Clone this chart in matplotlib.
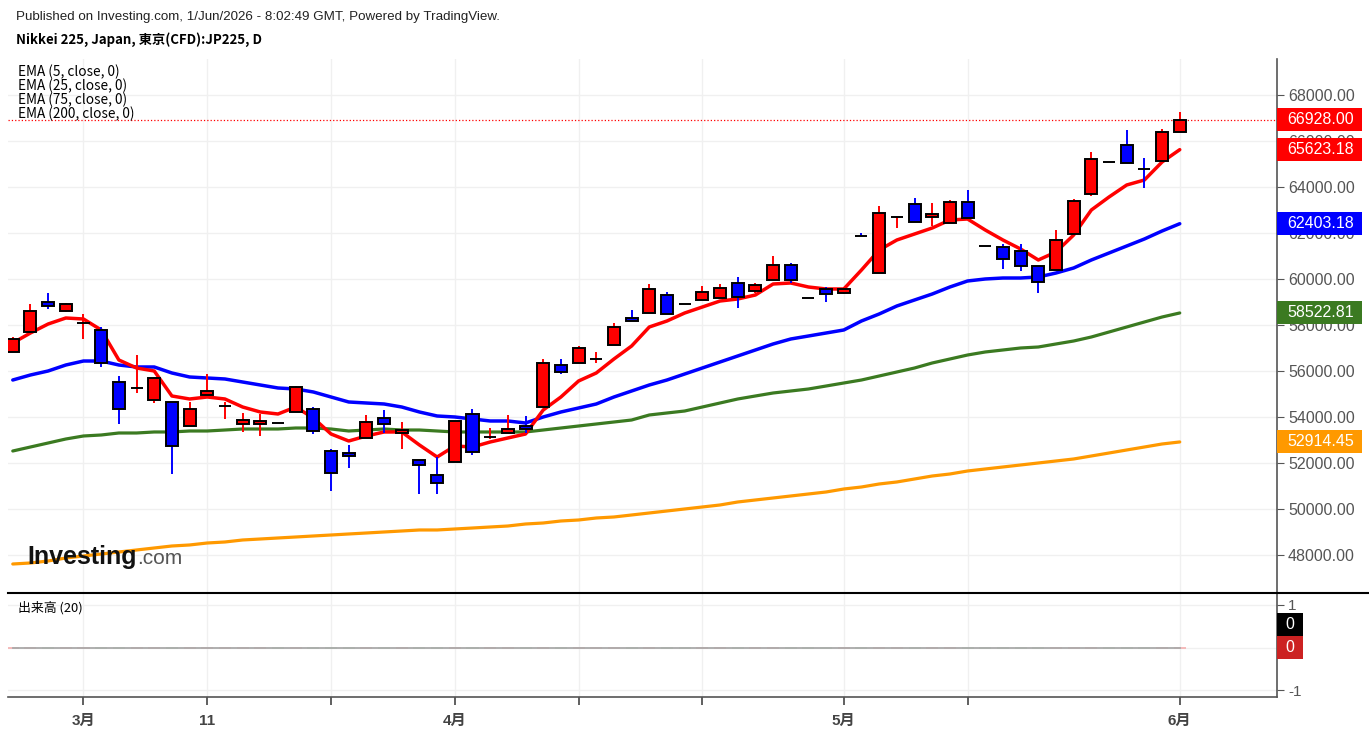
import matplotlib.pyplot as plt
import matplotlib.transforms as mtransforms
from matplotlib.patches import Rectangle
from matplotlib.lines import Line2D

plt.rcParams['font.family'] = ['Liberation Sans', 'Noto Sans CJK JP', 'DejaVu Sans']

# daily candles, Nikkei 225 CFD
opens = [56830, 57700, 59000, 58610, 58080, 57780, 55520, 55260, 54740, 54650,
         53610, 54960, 54470, 53700, 53700, 53740, 54220, 54350, 52520, 52430,
         53090, 53960, 53300, 52130, 51480, 52040, 54130, 53130, 53300, 53610,
         54430, 56260, 56350, 56520, 57130, 58300, 58520, 59300, 58910, 59090,
         59170, 59830, 59480, 59960, 60610, 59170, 59570, 59390, 61870, 60260,
         62690, 63260, 62700, 62430, 63350, 61430, 61390, 61220, 60570, 60390,
         61960, 63700, 65090, 65830, 64790, 65130, 66390]
highs = [57480, 58910, 59390, 58960, 58480, 57910, 55780, 56700, 55740, 54660,
         54650, 55870, 54650, 54170, 54130, 53740, 55350, 54430, 52610, 52780,
         54090, 54300, 53780, 52140, 52260, 53830, 54350, 53520, 54090, 54040,
         56520, 56520, 57090, 56830, 58090, 58650, 59780, 59430, 58910, 59700,
         59780, 60090, 59830, 61000, 60700, 59170, 59650, 59650, 62000, 63170,
         62700, 63520, 63300, 63430, 63870, 61430, 61520, 61520, 60570, 62130,
         63480, 65520, 65090, 66480, 65260, 66520, 67260]
lows = [56820, 57690, 58700, 58570, 57390, 56170, 53700, 55040, 54610, 51520,
        53600, 54950, 53910, 53350, 53170, 53740, 54210, 53260, 50780, 51780,
        53080, 53300, 52610, 50650, 50650, 52040, 52350, 53040, 53300, 53300,
        54430, 55870, 56350, 56350, 57130, 58170, 58520, 58480, 58910, 59090,
        59170, 58740, 59390, 59960, 59830, 59170, 59000, 59350, 61860, 60260,
        62220, 62480, 62300, 62430, 62650, 61430, 60430, 60350, 59390, 60390,
        61960, 63610, 65090, 65040, 63960, 65130, 66390]
closes = [57390, 58610, 58830, 58910, 58090, 56350, 54350, 55270, 55700, 52740,
          54350, 55130, 54480, 53870, 53830, 53740, 55300, 53390, 51570, 52300,
          53780, 53700, 53430, 51910, 51130, 53830, 52480, 53140, 53480, 53480,
          56350, 55960, 57000, 56530, 57910, 58170, 59570, 58480, 58910, 59430,
          59610, 59220, 59740, 60610, 59960, 59170, 59350, 59570, 61860, 62870,
          62700, 62480, 62830, 63350, 62650, 61430, 60870, 60570, 59870, 61700,
          63390, 65220, 65090, 65040, 64780, 66390, 66928]

ema5 = [57217, 57652, 58043, 58304, 58260, 57783, 56478, 56130, 56000, 54913,
        54782, 54869, 54782, 54434, 54217, 54130, 54434, 53956, 53260, 52956,
        53174, 53348, 53348, 52782, 52260, 52739, 52695, 52913, 53087, 53260,
        54304, 54869, 55565, 55913, 56521, 57087, 57913, 58174, 58521, 58782,
        59043, 59130, 59304, 59782, 59826, 59652, 59565, 59565, 60391, 61260,
        61695, 61956, 62217, 62565, 62608, 62130, 61695, 61304, 60826, 61173,
        61913, 63000, 63565, 64087, 64304, 65087, 65623.18]
ema25 = [55608, 55826, 56000, 56260, 56434, 56434, 56260, 56174, 56174, 55913,
         55739, 55695, 55652, 55521, 55391, 55261, 55217, 55087, 54869, 54652,
         54608, 54565, 54434, 54217, 54043, 54000, 53913, 53826, 53826, 53739,
         54000, 54217, 54391, 54565, 54869, 55130, 55391, 55608, 55869, 56130,
         56391, 56652, 56913, 57174, 57391, 57521, 57652, 57783, 58174, 58478,
         58826, 59087, 59347, 59652, 59913, 60000, 60043, 60043, 60087, 60260,
         60478, 60826, 61130, 61434, 61739, 62087, 62403.18]
ema75 = [52521, 52695, 52869, 53043, 53174, 53217, 53304, 53304, 53348, 53348,
         53391, 53391, 53434, 53478, 53478, 53478, 53521, 53521, 53478, 53391,
         53434, 53478, 53434, 53434, 53391, 53348, 53348, 53348, 53348, 53348,
         53434, 53521, 53608, 53695, 53782, 53869, 54087, 54174, 54260, 54434,
         54608, 54782, 54913, 55043, 55130, 55217, 55347, 55478, 55608, 55782,
         55956, 56130, 56348, 56521, 56695, 56826, 56913, 57000, 57043, 57174,
         57304, 57478, 57695, 57913, 58130, 58347, 58522.81]
ema200 = [47608, 47652, 47739, 47869, 47956, 48043, 48130, 48217, 48304, 48391,
          48435, 48521, 48565, 48652, 48695, 48739, 48782, 48826, 48869, 48913,
          48956, 49000, 49043, 49087, 49087, 49130, 49173, 49217, 49260, 49347,
          49391, 49478, 49521, 49608, 49652, 49739, 49826, 49913, 50000, 50087,
          50174, 50304, 50391, 50478, 50565, 50652, 50739, 50869, 50956, 51087,
          51174, 51304, 51434, 51521, 51652, 51739, 51826, 51913, 52000, 52087,
          52174, 52304, 52434, 52565, 52695, 52826, 52914.45]
volume = [0] * len(opens)
volume_ma = [0] * len(opens)

tick_idx = [4, 11, 18, 25, 32, 39, 47, 54, 66]
tick_labels = ['3月', '11', '', '4月', '', '', '5月', '', '6月']
price_ticks = list(range(48000, 68001, 2000))

W, H = 1369, 730
fig = plt.figure(figsize=(W / 100, H / 100), dpi=100)
ax = fig.add_axes([8 / W, 1 - 593 / H, 1269 / W, 534 / H])
axv = fig.add_axes([8 / W, 1 - 697 / H, 1269 / W, 104 / H], sharex=ax)

x = list(range(len(opens)))
cols = []
for o, c in zip(opens, closes):
    if c > o:
        cols.append('#ff0000')
    elif c < o:
        cols.append('#0000ff')
    else:
        cols.append('black')

# EMAs under the candles
ax.plot(x, ema200, color='#ff9900', lw=2.3, zorder=2, solid_capstyle='round')
ax.plot(x, ema75, color='#3b7a21', lw=2.3, zorder=2, solid_capstyle='round')
ax.plot(x, ema25, color='#0000ff', lw=2.5, zorder=2, solid_capstyle='round')
ax.plot(x, ema5, color='#ff0000', lw=2.5, zorder=2, solid_capstyle='round')

ax.vlines(x, lows, highs, colors=cols, lw=1.4, zorder=3)
bottoms = [min(o, c) for o, c in zip(opens, closes)]
heights = [abs(c - o) for o, c in zip(opens, closes)]
ax.bar(x, heights, bottom=bottoms, width=0.68, color=cols, edgecolor='black',
       lw=1.4, zorder=4)

ax.axhline(closes[-1], color='#ff0000', ls=':', lw=0.9, zorder=1)

ax.set_xlim(-0.27, 71.5)
ax.set_ylim(46347, 69565)
ax.set_xticks(tick_idx)
ax.set_yticks(price_ticks)
ax.set_yticklabels([f'{v:.2f}' for v in price_ticks])
ax.yaxis.tick_right()
ax.tick_params(axis='x', bottom=False, labelbottom=False)
ax.tick_params(axis='y', labelsize=11.5, colors='#555555', length=5, pad=3)
ax.grid(True, color='#f0f0f0', lw=1)
ax.set_axisbelow(True)
for s in ['top', 'left', 'bottom']:
    ax.spines[s].set_visible(False)
ax.spines['right'].set_color('#555555')
ax.spines['right'].set_linewidth(1.2)

# value boxes on the price scale
trans = mtransforms.blended_transform_factory(ax.transAxes, ax.transData)
boxes = [(closes[-1], '#ff0000'), (ema5[-1], '#ff0000'), (ema25[-1], '#0000ff'),
         (ema75[-1], '#3b7a21'), (ema200[-1], '#ff9900')]
for val, col in boxes:
    ax.add_patch(Rectangle((1.0, val - 500), 85 / 1269, 1000, transform=trans,
                           fc=col, ec='none', clip_on=False, zorder=5))
    ax.text(1 + 10 / 1269, val, f'{val:.2f}', transform=trans, color='white',
            fontsize=11.5, va='center', ha='left', zorder=6, clip_on=False)

# volume pane
vcols = ['#f4b0b0' if c == '#ff0000' else '#b4dcb4' for c in cols]
axv.bar(x, volume, width=0.68, color=vcols, edgecolor=vcols, lw=1.2, zorder=3)
axv.plot(x, volume_ma, color='#aaaaaa', lw=1.3, zorder=4)
axv.set_ylim(-1.16, 1.28)
axv.set_yticks([-1, 0, 1])
axv.set_yticklabels(['-1', '0', '1'])
axv.yaxis.tick_right()
axv.tick_params(axis='y', labelsize=11, colors='#555555', length=5, pad=3)
axv.set_xticks(tick_idx)
axv.set_xticklabels(tick_labels, fontweight='bold')
axv.tick_params(axis='x', labelsize=11, colors='#444444', length=6, width=1.2, pad=6)
axv.grid(True, color='#f0f0f0', lw=1)
axv.set_axisbelow(True)
for s in ['top', 'left']:
    axv.spines[s].set_visible(False)
for s in ['right', 'bottom']:
    axv.spines[s].set_color('#555555')
    axv.spines[s].set_linewidth(1.2)

vtrans = mtransforms.blended_transform_factory(axv.transAxes, axv.transData)
for val, cen, col in [(volume_ma[-1], 0.55, 'black'), (volume[-1], 0.0, '#cc2222')]:
    axv.add_patch(Rectangle((1.0, cen - 0.27), 26 / 1269, 0.54, transform=vtrans,
                            fc=col, ec='none', clip_on=False, zorder=5))
    axv.text(1 + 13 / 1269, cen, f'{val}', transform=vtrans, color='white',
             fontsize=11.5, va='center', ha='center', zorder=6, clip_on=False)

fig.add_artist(Line2D([8 / W, 1], [1 - 593 / H, 1 - 593 / H], color='black', lw=1.5))

# header, legend and logo
fig.text(16 / W, 1 - 17 / H,
         'Published on Investing.com, 1/Jun/2026 - 8:02:49 GMT, Powered by TradingView.',
         fontsize=9.6, color='#222222', va='center')
fig.text(16 / W, 1 - 40 / H, 'Nikkei 225, Japan, 東京(CFD):JP225, D',
         family=['Noto Sans CJK JP'], fontweight='bold', fontsize=9.5, va='center')
for i, name in enumerate(['EMA (5, close, 0)', 'EMA (25, close, 0)',
                          'EMA (75, close, 0)', 'EMA (200, close, 0)']):
    fig.text(18 / W, 1 - (72 + 14 * i) / H, name, family=['Noto Sans CJK JP'],
             fontsize=9.8, va='center')
fig.text(18 / W, 1 - 608 / H, '出来高 (20)', family=['Noto Sans CJK JP'],
         fontsize=9.3, va='center')
fig.text(27 / W, 1 - 557 / H, 'Investing', fontsize=18, fontweight='bold',
         color='#111111', va='center')
fig.text(137 / W, 1 - 559 / H, '.com', fontsize=15, color='#555555', va='center')

fig.savefig('out.png', dpi=100)
